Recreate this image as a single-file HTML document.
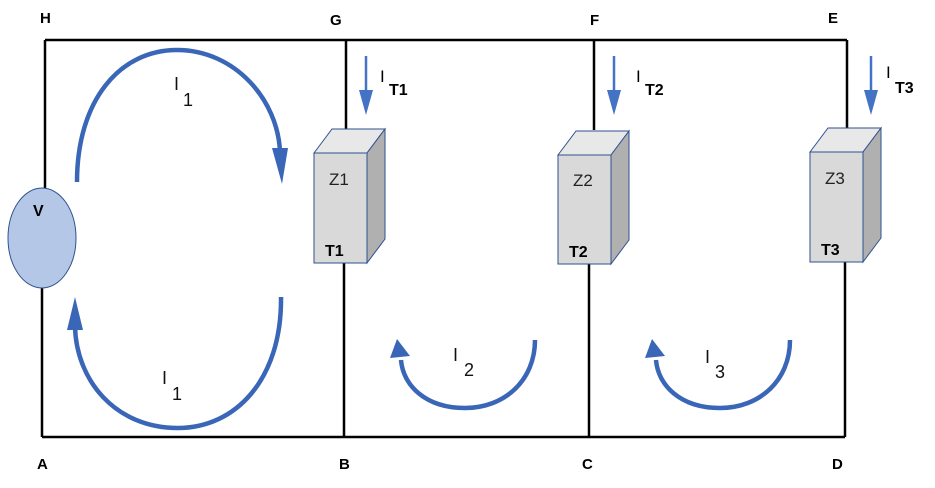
<!DOCTYPE html><html><head><style>body{margin:0;background:#fff}svg{display:block}text{font-family:"Liberation Sans",sans-serif}</style></head><body>
<svg width="935" height="488" viewBox="0 0 935 488">
<g stroke="#000" stroke-width="2.5" fill="none">
<path d="M45,40H847"/><path d="M42,437H845"/>
<path d="M45,40V190"/><path d="M42,286V437"/>
<path d="M346,40V129"/><path d="M344,263V437"/>
<path d="M594,40V130"/><path d="M589,264V437"/>
<path d="M847,40V128"/><path d="M845,262V437"/>
</g>
<ellipse cx="42" cy="238" rx="34" ry="50" fill="#b4c7e7" stroke="#2f528f" stroke-width="1"/>
<text x="33" y="216" font-size="16" font-weight="bold">V</text>
<g stroke="#2f528f" stroke-width="1">
<g><polygon points="314,153 332,129 385,129 367,153" fill="#e8e8e8"/><polygon points="367,153 385,129 385,239 367,263" fill="#b0b0b0"/><rect x="314" y="153" width="53" height="110" fill="#d9d9d9"/></g>
<g><polygon points="558,155 576,131 629,131 611,155" fill="#e8e8e8"/><polygon points="611,155 629,131 629,240 611,264" fill="#b0b0b0"/><rect x="558" y="155" width="53" height="109" fill="#d9d9d9"/></g>
<g><polygon points="810,152 828,128 881,128 863,152" fill="#e8e8e8"/><polygon points="863,152 881,128 881,238 863,262" fill="#b0b0b0"/><rect x="810" y="152" width="53" height="110" fill="#d9d9d9"/></g>
</g>
<g font-size="17" fill="#222"><text x="329" y="185">Z1</text><text x="573" y="186">Z2</text><text x="825" y="184">Z3</text></g>
<g font-size="16" font-weight="bold"><text x="325" y="256">T1</text><text x="569" y="257">T2</text><text x="821" y="255">T3</text></g>
<g stroke="#4472c4" stroke-width="2.5"><path d="M366,56V92"/><path d="M614,56V92"/><path d="M871,56V92"/></g>
<g fill="#4472c4"><polygon points="359,90 373,90 366,115"/><polygon points="607,90 621,90 614,115"/><polygon points="864,90 878,90 871,115"/></g>
<g font-size="17"><text x="380" y="82">I</text><text x="389" y="95" font-size="16" font-weight="bold">T1</text>
<text x="636" y="82">I</text><text x="645" y="95" font-size="16" font-weight="bold">T2</text>
<text x="886" y="78">I</text><text x="895" y="93" font-size="16" font-weight="bold">T3</text></g>
<g stroke="#3a66b8" stroke-width="4.5" fill="none">
<path d="M77,182C77,100 120,50 177,50C235,50 278,100 280,152"/>
<path d="M281,297C282,380 235,428 178,428C115,428 76,380 75,326"/>
<path d="M535,340C535,380 505,408 465,408C425,408 403,385 401,360"/>
<path d="M790,340C790,380 760,408 720,408C680,408 658,385 656,360"/>
</g>
<g fill="#3a66b8">
<polygon points="272,148 288,148 282,184"/>
<polygon points="67,330 83,330 75,297"/>
<polygon points="390,358 410,356 397,339"/>
<polygon points="645,358 665,356 652,339"/>
</g>
<g font-size="18" fill="#111"><text x="174" y="90">I</text><text x="183" y="106">1</text>
<text x="162" y="384">I</text><text x="172" y="400">1</text>
<text x="453" y="361">I</text><text x="464" y="376">2</text>
<text x="705" y="363">I</text><text x="715" y="378">3</text></g>
<g font-size="15" font-weight="bold"><text x="40" y="23">H</text><text x="330" y="25">G</text><text x="590" y="25">F</text><text x="828" y="23">E</text>
<text x="37" y="469">A</text><text x="339" y="469">B</text><text x="582" y="469">C</text><text x="832" y="469">D</text></g>
</svg></body></html>
